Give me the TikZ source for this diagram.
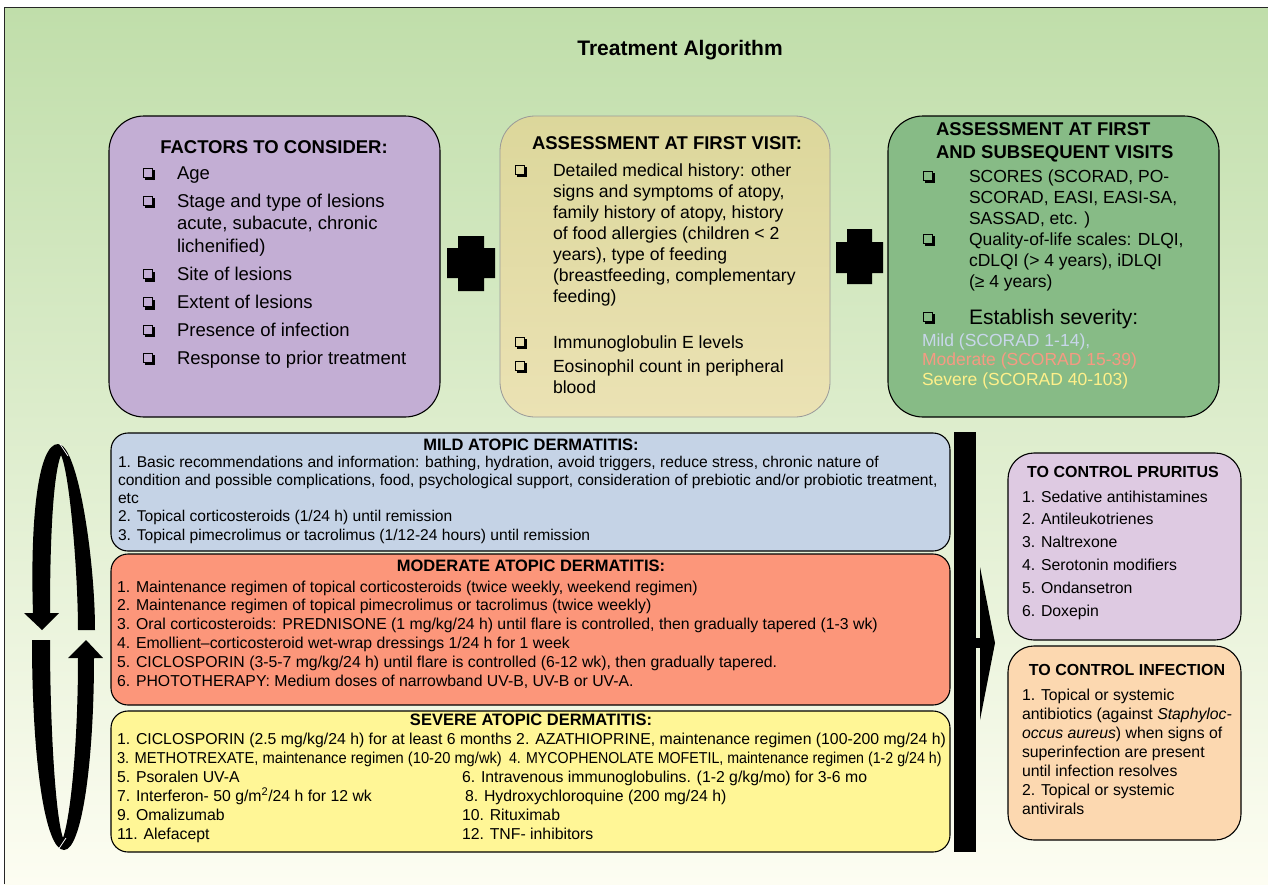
\documentclass[tikz,border=0pt]{standalone}
\usepackage{fontspec}
\setmainfont{Liberation Sans}
\usepackage{graphicx}
\usetikzlibrary{fit}
\definecolor{bgtop}{RGB}{192,222,170}
\definecolor{bgmid}{RGB}{224,238,212}
\definecolor{bgbot}{RGB}{253,253,242}
\definecolor{factc}{RGB}{195,174,212}
\definecolor{firstt}{RGB}{220,215,155}
\definecolor{firstb}{RGB}{235,226,180}
\definecolor{subsc}{RGB}{135,187,134}
\definecolor{mildc}{RGB}{197,211,230}
\definecolor{modc}{RGB}{252,150,122}
\definecolor{sevc}{RGB}{255,246,150}
\definecolor{pruc}{RGB}{222,202,226}
\definecolor{infc}{RGB}{252,216,176}
\definecolor{mildt}{RGB}{200,214,234}
\definecolor{modt}{RGB}{247,154,130}
\definecolor{sevt}{RGB}{255,240,138}
% shadowed check box (drawn with rules)
\newcommand\cb{{\setlength{\unitlength}{1pt}\begin{picture}(12,11)
\put(0,1.2){\rule{10pt}{1pt}}
\put(0,10.2){\rule{10pt}{1pt}}
\put(0,1.2){\rule{1pt}{10pt}}
\put(9,1.2){\rule{1pt}{10pt}}
\put(2,-1){\rule{10pt}{2.4pt}}
\put(9.6,-1){\rule{2.4pt}{10pt}}
\end{picture}}}
\newcommand\fs[2]{\fontsize{#1}{#2}\selectfont}
\tikzset{
  bigbox/.style={draw=black, line width=1.1pt, inner sep=0pt, rounded corners=35pt},
  midbox/.style={draw=black, line width=1.1pt, inner sep=0pt, rounded corners=17pt},
  sidebox/.style={draw=black, line width=1.1pt, inner sep=0pt, rounded corners=26pt},
  txt/.style={inner sep=0pt, outer sep=0pt, anchor=base west, align=left},
  head/.style={inner sep=0pt, font=\bfseries},
  blackshape/.style={fill=black, draw=none}
}
\begin{document}
\begin{tikzpicture}[x=1pt,y=-1pt]
\useasboundingbox (0,0) rectangle (1268,884);
\clip (0,0) rectangle (1268,884);
\fill[white] (0,0) rectangle (1268,884);
\shade[top color=bgtop, middle color=bgmid, bottom color=bgbot] (4,7) rectangle (1268,884);
\draw[line width=1pt, black!85] (4,884) -- (4,7) -- (1268,7);

\node[head, font=\bfseries\fs{21}{24}] (title) at (680,50) {Treatment Algorithm};

% ---------- top boxes ----------
\node[bigbox, fill=factc, fit={(109,116) (440,417)}] (factors) {};
\node[head, font=\bfseries\fs{18.5}{22}] (factT) at (274,147) {FACTORS TO CONSIDER:};
\node[txt, font=\fs{18.5}{22.5}] (factL) at (143,179) {\begin{tabular}[t]{@{}p{34pt}@{}l@{}}
\cb & Age\\[5.5pt]
\cb & Stage and type of lesions\\
 & acute, subacute, chronic\\
 & lichenified)\\[6pt]
\cb & Site of lesions\\[5.5pt]
\cb & Extent of lesions\\[5pt]
\cb & Presence of infection\\[5.5pt]
\cb & Response to prior treatment
\end{tabular}};

\node[draw=black!40, line width=0.8pt, inner sep=0pt, rounded corners=35pt, top color=firstt, bottom color=firstb, fit={(500,116) (830,417)}] (first) {};
\node[head, font=\bfseries\fs{18.5}{22}] (firstT) at (667,143) {ASSESSMENT AT FIRST VISIT:};
\node[txt, font=\fs{17.6}{21}] (firstL) at (515,176) {\begin{tabular}[t]{@{}p{38pt}@{}l@{}}
\cb & Detailed medical history: other\\
 & signs and symptoms of atopy,\\
 & family history of atopy, history\\
 & of food allergies (children < 2\\
 & years), type of feeding\\
 & (breastfeeding, complementary\\
 & feeding)\\[25pt]
\cb & Immunoglobulin E levels\\[3pt]
\cb & Eosinophil count in peripheral\\
 & blood
\end{tabular}};

\node[bigbox, fill=subsc, fit={(888,116) (1219,417)}] (subs) {};
\node[txt, font=\bfseries\fs{18.5}{23}] (subsT) at (936,135) {\begin{tabular}[t]{@{}l@{}}ASSESSMENT AT FIRST\\ AND SUBSEQUENT VISITS\end{tabular}};
\node[txt, font=\fs{17.5}{21}] (subsL) at (923,182) {\begin{tabular}[t]{@{}p{46pt}@{}l@{}}
\cb & SCORES (SCORAD, PO-\\
 & SCORAD, EASI, EASI-SA,\\
 & SASSAD, etc. )\\
\cb & Quality-of-life scales: DLQI,\\
 & cDLQI (> 4 years), iDLQI\\
 & (≥ 4 years)
\end{tabular}};
\node[txt, font=\fs{17.5}{21}] (sevCb) at (923,323) {\cb};
\node[txt, font=\fs{21}{25}] (sevE) at (969,324) {Establish severity:};
\node[txt, font=\fs{17.5}{19.5}] (sevL) at (922,346) {\begin{tabular}[t]{@{}l@{}}
\textcolor{mildt}{Mild (SCORAD 1-14),}\\
\textcolor{modt}{Moderate (SCORAD 15-39)}\\
\textcolor{sevt}{Severe (SCORAD 40-103)}
\end{tabular}};

% plus signs
\fill[blackshape] (458,236) -- (484,236) -- (484,248) -- (495,248) -- (495,278) -- (484,278) -- (484,291) -- (458,291) -- (458,278) -- (447,278) -- (447,248) -- (458,248) -- cycle;
\fill[blackshape] (847,229) -- (872,229) -- (872,242) -- (883,242) -- (883,273) -- (872,273) -- (872,284) -- (847,284) -- (847,273) -- (836,273) -- (836,242) -- (847,242) -- cycle;

% ---------- middle boxes ----------
\node[midbox, fill=mildc, fit={(111,433) (950,551)}] (mild) {};
\node[head, font=\bfseries\fs{16.5}{18}] (mildT) at (531,445) {MILD ATOPIC DERMATITIS:};
\node[txt, font=\fs{15.6}{18.3}] (mildL) at (118,467) {\begin{tabular}[t]{@{}l@{}}
1. Basic recommendations and information: bathing, hydration, avoid triggers, reduce stress, chronic nature of\\
condition and possible complications, food, psychological support, consideration of prebiotic and/or probiotic treatment,\\
etc\\
2. Topical corticosteroids (1/24 h) until remission\\
3. Topical pimecrolimus or tacrolimus (1/12-24 hours) until remission
\end{tabular}};

\node[midbox, fill=modc, fit={(111,554) (950,705)}] (mod) {};
\node[head, font=\bfseries\fs{16.5}{18}] (modT) at (531,566) {MODERATE ATOPIC DERMATITIS:};
\node[txt, font=\fs{15.8}{18.8}] (modL) at (117,592) {\begin{tabular}[t]{@{}l@{}}
1. Maintenance regimen of topical corticosteroids (twice weekly, weekend regimen)\\
2. Maintenance regimen of topical pimecrolimus or tacrolimus (twice weekly)\\
3. Oral corticosteroids: PREDNISONE (1 mg/kg/24 h) until flare is controlled, then gradually tapered (1-3 wk)\\
4. Emollient–corticosteroid wet-wrap dressings 1/24 h for 1 week\\
5. CICLOSPORIN (3-5-7 mg/kg/24 h) until flare is controlled (6-12 wk), then gradually tapered.\\
6. PHOTOTHERAPY: Medium doses of narrowband UV-B, UV-B or UV-A.
\end{tabular}};

\node[midbox, fill=sevc, fit={(111,711) (950,852)}] (sev) {};
\node[head, font=\bfseries\fs{16.5}{18}] (sevT) at (531,720) {SEVERE ATOPIC DERMATITIS:};
\node[txt, font=\fs{15.8}{19}] (sevLL) at (117,744) {\begin{tabular}[t]{@{}p{345pt}@{}l@{}}
\multicolumn{2}{@{}l@{}}{1. CICLOSPORIN (2.5 mg/kg/24 h) for at least 6 months 2. AZATHIOPRINE, maintenance regimen (100-200 mg/24 h)}\\
\multicolumn{2}{@{}l@{}}{\makebox[392pt][l]{\scalebox{0.93}[1]{3. METHOTREXATE, maintenance regimen (10-20 mg/wk)}}\scalebox{0.9}[1]{4. MYCOPHENOLATE MOFETIL, maintenance regimen (1-2 g/24 h)}}\\
5. Psoralen UV-A & 6. Intravenous immunoglobulins. (1-2 g/kg/mo) for 3-6 mo\\
7. Interferon- 50 g/m\textsuperscript{2}/24 h for 12 wk & \hspace{3pt}8. Hydroxychloroquine (200 mg/24 h)\\
9. Omalizumab & 10. Rituximab\\
11. Alefacept & 12. TNF- inhibitors
\end{tabular}};

% big bar and arrow
\fill[blackshape] (954,432) rectangle (976,852);
\fill[blackshape] (975,638) rectangle (981,648);
\fill[blackshape] (980,567) -- (995,643) -- (980,720) -- cycle;

% ---------- side boxes ----------
\node[sidebox, fill=pruc, fit={(1008,453) (1241,640)}] (pru) {};
\node[head, font=\bfseries\fs{16}{19}] (pruT) at (1123,472) {TO CONTROL PRURITUS};
\node[txt, font=\fs{15.8}{22.8}] (pruL) at (1022,502) {\begin{tabular}[t]{@{}l@{}}
1. Sedative antihistamines\\
2. Antileukotrienes\\
3. Naltrexone\\
4. Serotonin modifiers\\
5. Ondansetron\\
6. Doxepin
\end{tabular}};

\node[sidebox, fill=infc, fit={(1008,646) (1241,840)}] (inf) {};
\node[head, font=\bfseries\fs{16}{19}] (infT) at (1127,670) {TO CONTROL INFECTION};
\node[txt, font=\fs{15.8}{19}] (infL) at (1022,700) {\begin{tabular}[t]{@{}l@{}}
1. Topical or systemic\\
antibiotics (against \textit{Staphyloc-}\\
\textit{occus aureus}) when signs of\\
superinfection are present\\
until infection resolves\\
2. Topical or systemic\\
antivirals
\end{tabular}};

% ---------- cycle arrows ----------
\fill[blackshape] (33,613) .. controls (30,520) and (38,444) .. (58,444)
  .. controls (78,444) and (95,560) .. (95,630) -- (78,630)
  .. controls (78,575) and (70,475) .. (61,455)
  .. controls (53,475) and (50,540) .. (50,613)
  -- (59,613) -- (42,630) -- (24,613) -- cycle;
\draw[white, line width=0.8pt] (60,444) -- (68,456);
\fill[blackshape] (32,640) -- (50,640) .. controls (50,720) and (55,815) .. (63,838)
  .. controls (71,815) and (78,740) .. (78,658) -- (68,658) -- (86,640) -- (103,658) -- (94,658)
  .. controls (94,760) and (82,850) .. (64,850)
  .. controls (45,850) and (32,760) .. (32,640) -- cycle;
\draw[white, line width=0.8pt] (58,850) -- (66,838);
\end{tikzpicture}
\end{document}
